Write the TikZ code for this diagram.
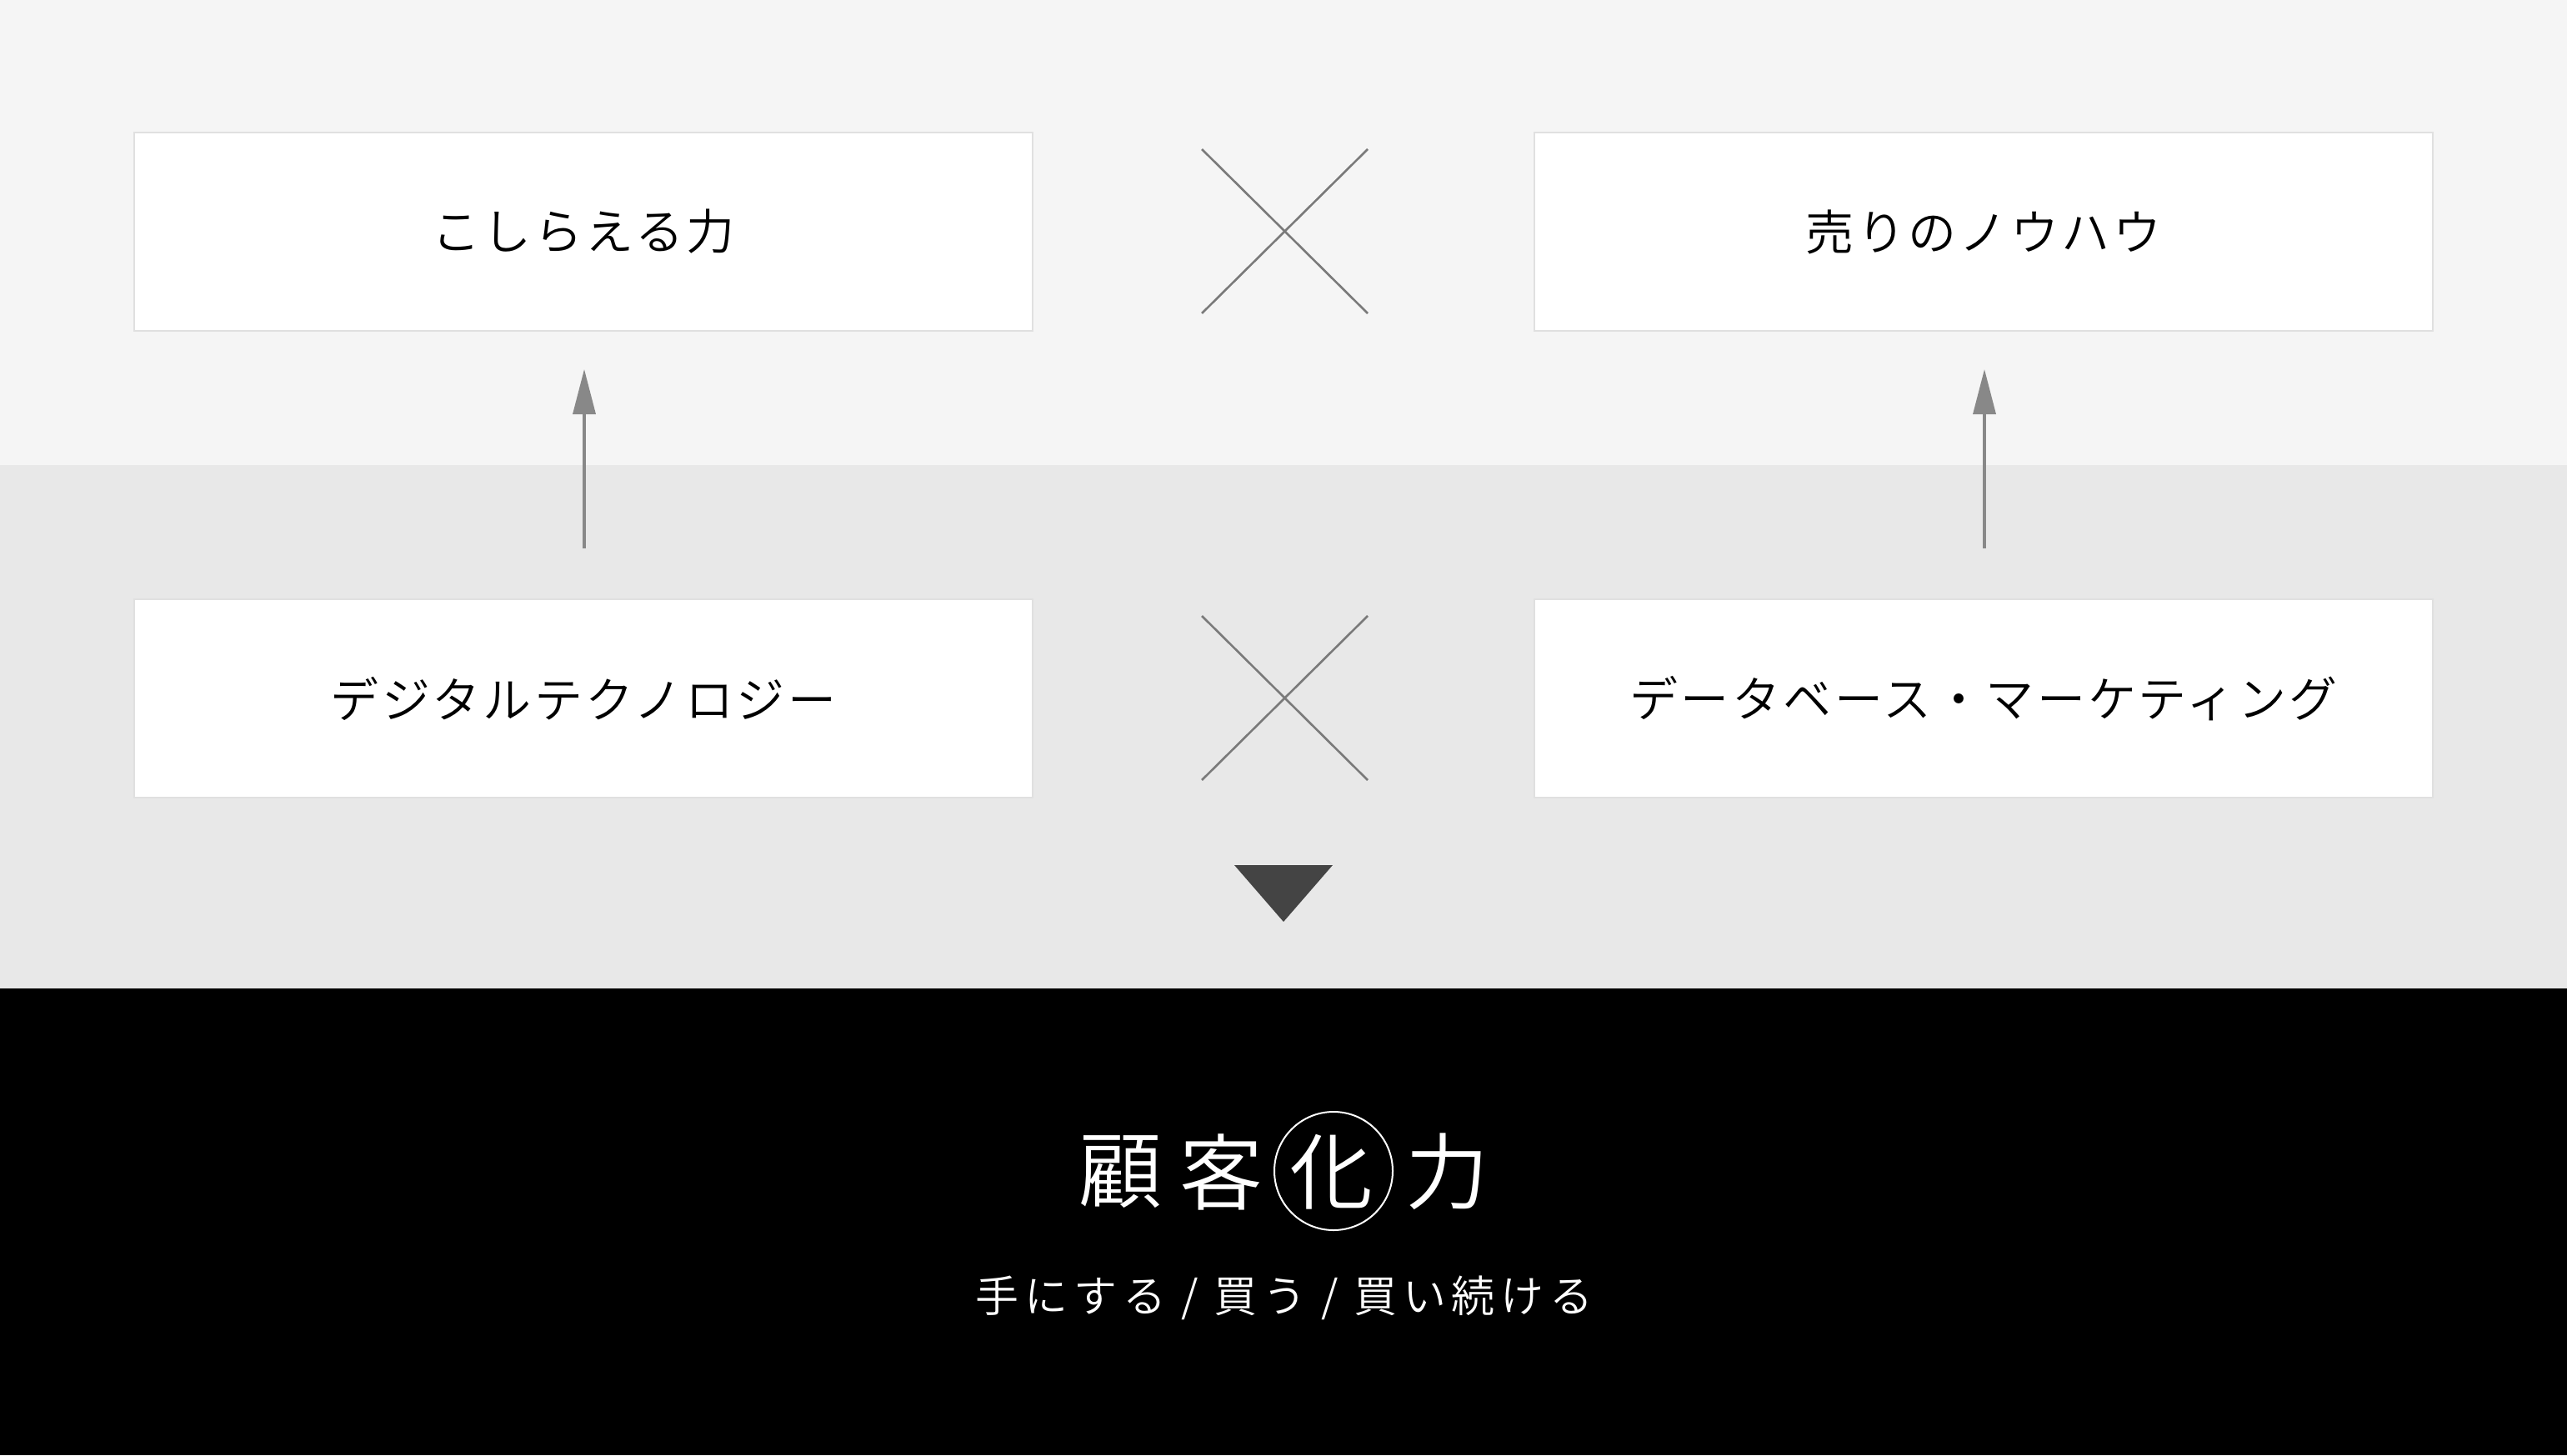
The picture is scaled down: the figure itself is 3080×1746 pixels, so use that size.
\documentclass[tikz,border=0pt]{standalone}
\usepackage{fontspec}
\IfFontExistsTF{Noto Sans CJK JP DemiLight}{\def\jpname{Noto Sans CJK JP DemiLight}}{%
  \IfFontExistsTF{Noto Sans CJK JP Light}{\def\jpname{Noto Sans CJK JP Light}}{\def\jpname{Noto Sans CJK JP}}}
\setmainfont{\jpname}
\newfontfamily\jpbox[LetterSpace=6]{\jpname}
\newfontfamily\jpsub[LetterSpace=13]{\jpname}
\newfontfamily\jptitle{\jpname}
\usetikzlibrary{arrows.meta}
\definecolor{topband}{HTML}{F5F5F5}
\definecolor{midband}{HTML}{E8E8E8}
\definecolor{boxline}{HTML}{E0E0E0}
\definecolor{crossgray}{HTML}{7A7A7A}
\definecolor{arrowgray}{HTML}{888888}
\definecolor{tridark}{HTML}{444444}
\tikzset{
  itembox/.style={draw=boxline, line width=2pt, fill=white, minimum width=1078pt, minimum height=238pt, inner sep=0pt, font=\jpbox\fontsize{58}{70}\selectfont, text=black},
  crossline/.style={draw=crossgray, line width=2.6pt},
  uparrow/.style={draw=arrowgray, line width=3.4pt, -{Triangle[length=54pt,width=27pt]}},
  titlechar/.style={font=\jptitle\fontsize{100}{110}\selectfont, text=white, inner sep=0pt},
}
\begin{document}
\begin{tikzpicture}[x=1pt,y=-1pt]
\useasboundingbox (0,0) rectangle (3080,1746);
% bands
\fill[topband] (0,0) rectangle (3080,558);
\fill[midband] (0,558) rectangle (3080,1186);
\fill[black] (0,1186) rectangle (3080,1746);
% boxes
\node[itembox] (b1) at (700,278) {こしらえる力};
\node[itembox] (b2) at (2380,278) {売りのノウハウ};
\node[itembox] (b3) at (700,838) {デジタルテクノロジー};
\node[itembox] (b4) at (2380,838) {データベース・マーケティング};
% crosses
\coordinate (c1a) at (1442,179); \coordinate (c1b) at (1641,376);
\coordinate (c1c) at (1641,179); \coordinate (c1d) at (1442,376);
\draw[crossline] (c1a) -- (c1b);
\draw[crossline] (c1c) -- (c1d);
\coordinate (c2a) at (1442,739); \coordinate (c2b) at (1641,936);
\coordinate (c2c) at (1641,739); \coordinate (c2d) at (1442,936);
\draw[crossline] (c2a) -- (c2b);
\draw[crossline] (c2c) -- (c2d);
% arrows
\coordinate (a1s) at (701,658); \coordinate (a1e) at (701,443);
\coordinate (a2s) at (2381,658); \coordinate (a2e) at (2381,443);
\draw[uparrow] (a1s) -- (a1e);
\draw[uparrow] (a2s) -- (a2e);
% triangle
\coordinate (t1) at (1481,1038); \coordinate (t2) at (1599,1038); \coordinate (t3) at (1540,1106);
\fill[tridark] (t1) -- (t2) -- (t3) -- cycle;
% title
\node[titlechar] (k1) at (1344,1406) {顧};
\node[titlechar] (k2) at (1465,1406) {客};
\node[titlechar] (k3) at (1597,1406) {化};
\node[titlechar] (k4) at (1736,1406) {力};
\node[draw=white, line width=2pt, circle, minimum size=142pt, inner sep=0pt] (ring) at (1600,1405) {};
% subtitle
\node[font=\jpsub\fontsize{52}{60}\selectfont, text=white, inner sep=0pt] (sub) at (1541,1557) {手にする / 買う / 買い続ける};
\end{tikzpicture}
\end{document}
